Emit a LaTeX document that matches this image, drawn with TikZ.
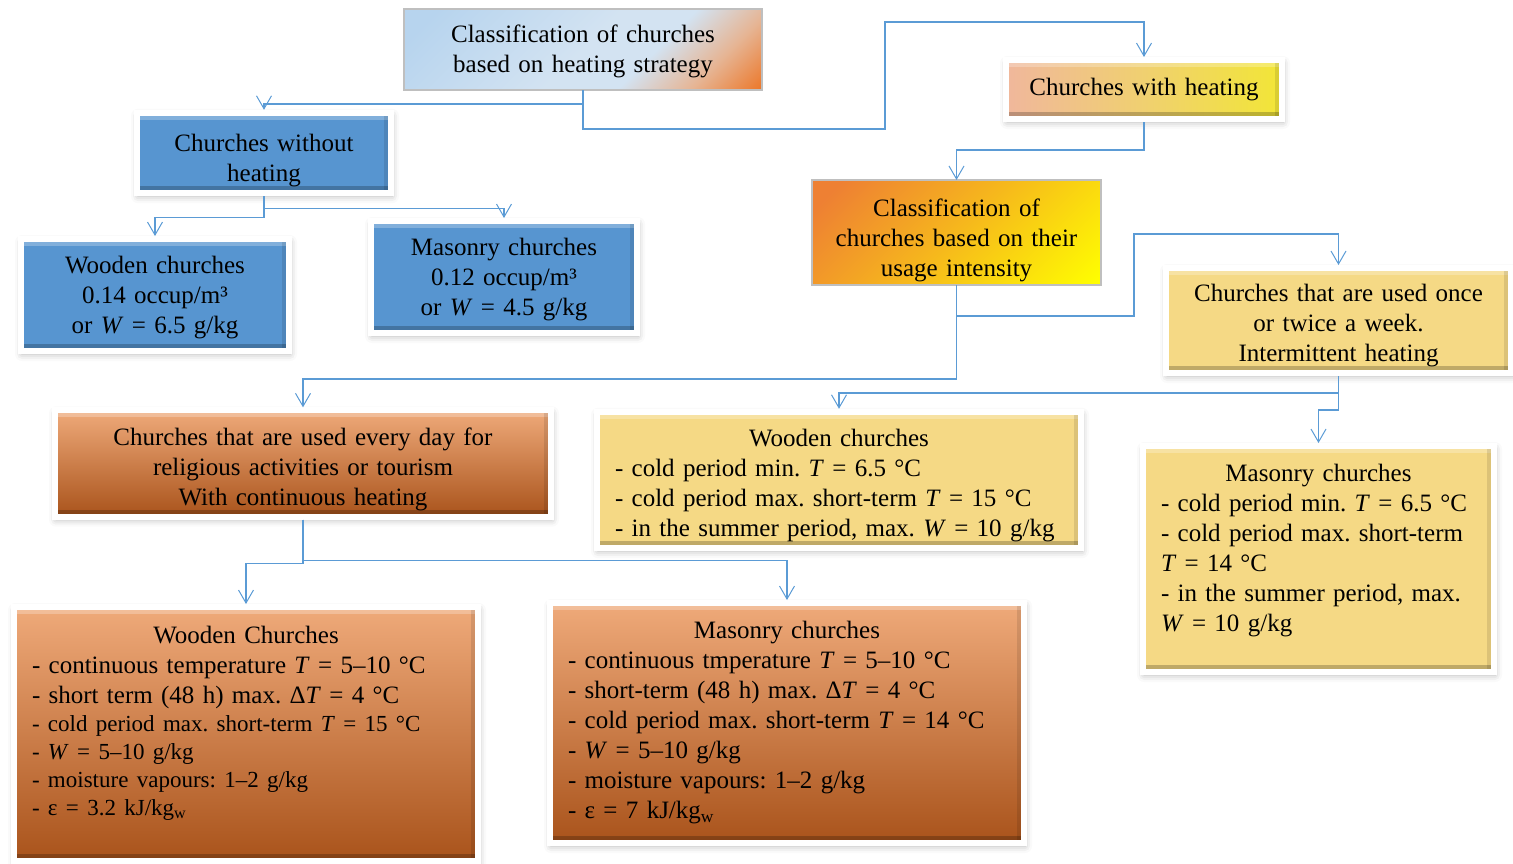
\documentclass[tikz,border=0pt]{standalone}
\usepackage{fontspec}
\setmainfont{Liberation Serif}
\usepackage{tikz}
\usetikzlibrary{arrows.meta, shadows.blur}

\definecolor{linkblue}{HTML}{5B9BD5}
\definecolor{boxblue}{HTML}{5795D0}
\definecolor{boxgold}{HTML}{F5D985}
\definecolor{skyA}{HTML}{B7D4EE}
\definecolor{skyB}{HTML}{D3E3F2}
\definecolor{peachA}{HTML}{E6B493}
\definecolor{orangeA}{HTML}{EC792C}
\definecolor{peachB}{HTML}{F0B79C}
\definecolor{goldB}{HTML}{F0D070}
\definecolor{yellowB}{HTML}{F2E636}
\definecolor{orangeB}{HTML}{EE8033}
\definecolor{amberB}{HTML}{F6B81C}
\definecolor{orgtop}{HTML}{EFAA7A}
\definecolor{orgmid}{HTML}{E07B35}
\definecolor{orgbot}{HTML}{A9531B}

\pgfdeclarehorizontalshading{skyorange}{100bp}{color(0bp)=(skyA); color(20bp)=(skyA); color(50bp)=(skyB); color(62bp)=(skyB); color(74bp)=(peachA); color(85bp)=(orangeA); color(100bp)=(orangeA)}
\pgfdeclarehorizontalshading{peachyellow}{100bp}{color(0bp)=(peachB); color(25bp)=(peachB); color(50bp)=(goldB); color(75bp)=(yellowB); color(100bp)=(yellowB)}
\pgfdeclarehorizontalshading{orangeyellow}{100bp}{color(0bp)=(orangeB); color(20bp)=(orangeB); color(50bp)=(amberB); color(85bp)=(yellow); color(100bp)=(yellow)}

% struts that push a node text down or up
\newcommand{\padtop}[1]{\rule{0pt}{#1}}
\newcommand{\padbot}[1]{\rule[-#1]{0pt}{#1}}

\frenchspacing

\begin{document}
\begin{tikzpicture}[x=1pt, y=-1pt]
\tikzset{font=\fontsize{25}{30}\selectfont}
\tikzset{link/.style={draw=linkblue, line width=1.2pt, -{Straight Barb[length=13pt, width=15pt, line width=1pt]}}}
\tikzset{bevel/.style={path picture={
  \fill[white, opacity=.25] ([xshift=3pt, yshift=-3pt]path picture bounding box.north west) rectangle ([xshift=-3pt, yshift=-7pt]path picture bounding box.north east);
  \fill[black, opacity=.22] ([xshift=3pt, yshift=3pt]path picture bounding box.south west) rectangle ([xshift=-3pt, yshift=7pt]path picture bounding box.south east);
  \fill[black, opacity=.10] ([xshift=-3pt, yshift=3pt]path picture bounding box.south east) rectangle ([xshift=-7pt, yshift=-3pt]path picture bounding box.north east);}}}
\tikzset{card/.style={draw=white, line width=6pt, outer sep=3pt, inner xsep=18pt, inner ysep=6pt, blur shadow={shadow xshift=1pt, shadow yshift=-3pt, shadow blur radius=7pt, shadow opacity=30}, bevel}}
\tikzset{plain/.style={draw=gray!50, line width=1.5pt, outer sep=0pt, inner xsep=10pt, align=center}}
\tikzset{blue card/.style={card, fill=boxblue, align=center}}
\tikzset{gold card/.style={card, fill=boxgold}}
\tikzset{orange card/.style={card, top color=orgtop, middle color=orgmid, bottom color=orgbot}}

\useasboundingbox (0,0) rectangle (1513,863);

% heating strategy
\node[plain, shading=skyorange, shading angle=-45, minimum width=358pt, minimum height=81pt, text width=338pt] (strategy) at (583,49.5) {\padtop{21pt}Classification of churches\\based on heating strategy};
\node[card, shading=peachyellow, minimum width=276pt, minimum height=59pt, text width=240pt, align=center] (heated) at (1144,89.5) {Churches with heating};
\node[blue card, minimum width=254pt, minimum height=74pt, text width=218pt] (unheated) at (264,153) {\padtop{33pt}Churches without\\heating};
\node[blue card, minimum width=268pt, minimum height=112pt, text width=232pt] (woodcold) at (155,295) {\padtop{23pt}Wooden churches\\0.14 occup/m³\\or \textit{W} = 6.5 g/kg};
\node[blue card, minimum width=266pt, minimum height=112pt, text width=230pt] (stonecold) at (504,277) {\padtop{23pt}Masonry churches\\0.12 occup/m³\\or \textit{W} = 4.5 g/kg};

% usage intensity
\node[plain, shading=orangeyellow, shading angle=-45, minimum width=289pt, minimum height=99pt, text width=269pt] (usage) at (956.5,232.5) {\padtop{33pt}Classification of\\churches based on their\\usage intensity};
\node[gold card, align=center, minimum width=345pt, minimum height=105pt, text width=309pt] (weekly) at (1338.5,320.5) {\padtop{27pt}Churches that are used once\\or twice a week.\\Intermittent heating};
\node[orange card, align=center, minimum width=496pt, minimum height=105pt, text width=460pt] (daily) at (303,463.5) {\padtop{29pt}Churches that are used every day for\\religious activities or tourism\\With continuous heating};

% intermittent heating
\node[gold card, align=left, minimum width=484pt, minimum height=136pt, text width=448pt] (woodweek) at (839,480) {{\centering\padtop{29pt}Wooden churches\par}- cold period min. \textit{T} = 6.5 °C\\- cold period max. short-term \textit{T} = 15 °C\\- in the summer period, max. \textit{W} = 10 g/kg};
\node[gold card, align=left, minimum width=351pt, minimum height=226pt, text width=315pt] (stoneweek) at (1318.5,559) {{\centering Masonry churches\par}- cold period min. \textit{T} = 6.5 °C\\- cold period max. short-term\\\textit{T} = 14 °C\\- in the summer period, max.\\\textit{W} = 10 g/kg\padbot{23pt}};

% continuous heating
\node[orange card, align=left, minimum width=464pt, minimum height=254pt, text width=428pt] (wooddaily) at (246,734) {{\centering Wooden Churches\par}- continuous temperature \textit{T} = 5–10 °C\\- short term (48 h) max. Δ\textit{T} = 4 °C\\{\fontsize{23}{28}\selectfont - cold period max. short-term \textit{T} = 15 °C\\- \textit{W} = 5–10 g/kg\\- moisture vapours: 1–2 g/kg\\- ε = 3.2 kJ/kg\textsubscript{w}\padbot{27pt}\par}};
\node[orange card, align=left, minimum width=474pt, minimum height=240pt, text width=438pt] (stonedaily) at (787,723) {{\centering Masonry churches\par}- continuous tmperature \textit{T} = 5–10 °C\\- short-term (48 h) max. Δ\textit{T} = 4 °C\\- cold period max. short-term \textit{T} = 14 °C\\- \textit{W} = 5–10 g/kg\\- moisture vapours: 1–2 g/kg\\- ε = 7 kJ/kg\textsubscript{w}};

% connectors
\draw[link] (strategy.south) |- (885,129) -- (885,22) -| (heated.north);
\draw[link] (strategy.south) -- ++(0,14) -| (unheated.north);
\draw[link] (unheated.south) -- ++(0,12) -| (stonecold.north);
\draw[link] (unheated.south) -- ++(0,21) -| (woodcold.north);
\draw[link] (heated.south) -- ++(0,28) -| (usage.north);
\draw[link] (usage.south) |- (1134,316) -- (1134,234) -| (weekly.north);
\draw[link] (usage.south) -- ++(0,94) -| (daily.north);
\draw[link] (weekly.south) -- ++(0,17) -| (woodweek.north);
\draw[link] (weekly.south) -- ++(0,34) -| (stoneweek.north);
\draw[link] (daily.south) -- ++(0,41) -| (stonedaily.north);
\draw[link] (daily.south) -- ++(0,44) -| (wooddaily.north);

\end{tikzpicture}
\end{document}
